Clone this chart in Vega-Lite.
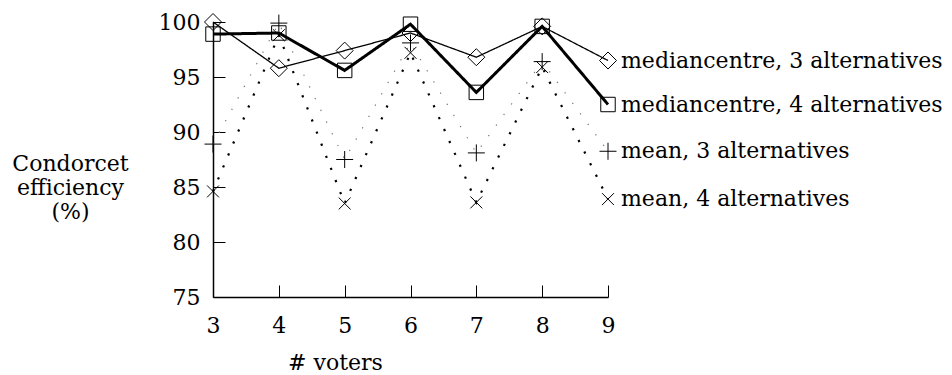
{
  "$schema": "https://vega.github.io/schema/vega-lite/v6.json",
  "width": 395,
  "height": 275,
  "autosize": "none",
  "padding": {"left": 213, "top": 22, "right": 344, "bottom": 78},
  "config": {
    "view": {"stroke": null},
    "font": "DejaVu Serif",
    "axis": {
      "grid": false,
      "domainColor": "black",
      "domainWidth": 1.5,
      "tickColor": "black",
      "tickWidth": 1,
      "tickSize": -12,
      "labelFlush": false,
      "labelFont": "DejaVu Serif",
      "labelFontSize": 22,
      "labelColor": "black",
      "titleFont": "DejaVu Serif",
      "titleFontSize": 22,
      "titleFontWeight": "normal",
      "titleColor": "black"
    }
  },
  "data": {
    "values": [
      {"voters": 3, "series": "mediancentre, 3 alternatives", "eff": 100.0},
      {"voters": 4, "series": "mediancentre, 3 alternatives", "eff": 95.8},
      {"voters": 5, "series": "mediancentre, 3 alternatives", "eff": 97.4},
      {"voters": 6, "series": "mediancentre, 3 alternatives", "eff": 99.0},
      {"voters": 7, "series": "mediancentre, 3 alternatives", "eff": 96.8},
      {"voters": 8, "series": "mediancentre, 3 alternatives", "eff": 99.6},
      {"voters": 9, "series": "mediancentre, 3 alternatives", "eff": 96.5},
      {"voters": 3, "series": "mediancentre, 4 alternatives", "eff": 98.9},
      {"voters": 4, "series": "mediancentre, 4 alternatives", "eff": 99.0},
      {"voters": 5, "series": "mediancentre, 4 alternatives", "eff": 95.6},
      {"voters": 6, "series": "mediancentre, 4 alternatives", "eff": 99.8},
      {"voters": 7, "series": "mediancentre, 4 alternatives", "eff": 93.6},
      {"voters": 8, "series": "mediancentre, 4 alternatives", "eff": 99.6},
      {"voters": 9, "series": "mediancentre, 4 alternatives", "eff": 92.5},
      {"voters": 3, "series": "mean, 3 alternatives", "eff": 88.9},
      {"voters": 4, "series": "mean, 3 alternatives", "eff": 99.9},
      {"voters": 5, "series": "mean, 3 alternatives", "eff": 87.5},
      {"voters": 6, "series": "mean, 3 alternatives", "eff": 98.1},
      {"voters": 7, "series": "mean, 3 alternatives", "eff": 88.1},
      {"voters": 8, "series": "mean, 3 alternatives", "eff": 96.4},
      {"voters": 9, "series": "mean, 3 alternatives", "eff": 88.25},
      {"voters": 3, "series": "mean, 4 alternatives", "eff": 84.6},
      {"voters": 4, "series": "mean, 4 alternatives", "eff": 98.8},
      {"voters": 5, "series": "mean, 4 alternatives", "eff": 83.5},
      {"voters": 6, "series": "mean, 4 alternatives", "eff": 97.2},
      {"voters": 7, "series": "mean, 4 alternatives", "eff": 83.6},
      {"voters": 8, "series": "mean, 4 alternatives", "eff": 95.9},
      {"voters": 9, "series": "mean, 4 alternatives", "eff": 83.9}
    ]
  },
  "encoding": {
    "x": {
      "field": "voters",
      "type": "quantitative",
      "scale": {"domain": [3, 9], "nice": false, "zero": false},
      "axis": {
        "values": [3, 4, 5, 6, 7, 8, 9],
        "labelPadding": 30,
        "title": "# voters",
        "titleX": 122,
        "titleY": 72,
        "titleAnchor": null,
        "titleAlign": "center",
        "titleBaseline": "alphabetic"
      }
    },
    "y": {
      "field": "eff",
      "type": "quantitative",
      "scale": {"domain": [75, 100], "nice": false, "zero": false},
      "axis": {
        "values": [75, 80, 85, 90, 95, 100],
        "labelPadding": 25,
        "title": ["Condorcet", "efficiency", "(%)"],
        "titleAngle": 0,
        "titleX": -143,
        "titleY": 148,
        "titleAlign": "center",
        "titleBaseline": "alphabetic",
        "titleLineHeight": 24
      }
    }
  },
  "layer": [
    {
      "mark": {"type": "line", "clip": false, "strokeCap": "butt"},
      "encoding": {
        "detail": {"field": "series"},
        "color": {
          "field": "series",
          "scale": {
            "domain": ["mediancentre, 3 alternatives", "mediancentre, 4 alternatives", "mean, 3 alternatives", "mean, 4 alternatives"],
            "range": ["#000000", "#000000", "#777777", "#000000"]
          },
          "legend": null
        },
        "strokeWidth": {
          "field": "series",
          "scale": {
            "type": "ordinal",
            "domain": ["mediancentre, 3 alternatives", "mediancentre, 4 alternatives", "mean, 3 alternatives", "mean, 4 alternatives"],
            "range": [1.3, 3, 1.2, 2.2]
          },
          "legend": null
        },
        "strokeDash": {
          "field": "series",
          "scale": {
            "domain": ["mediancentre, 3 alternatives", "mediancentre, 4 alternatives", "mean, 3 alternatives", "mean, 4 alternatives"],
            "range": [[1, 0], [1, 0], [1.3, 11.7], [2.2, 10.8]]
          },
          "legend": null
        }
      }
    },
    {
      "mark": {"type": "point", "filled": false, "clip": false, "color": "black", "strokeWidth": 1, "opacity": 1, "size": 289},
      "encoding": {
        "shape": {
          "field": "series",
          "scale": {
            "domain": ["mediancentre, 3 alternatives", "mediancentre, 4 alternatives", "mean, 3 alternatives", "mean, 4 alternatives"],
            "range": [
              "M0,-1L1,0L0,1L-1,0Z",
              "M-0.85,-0.85H0.85V0.85H-0.85Z",
              "M-1,0H1M0,-1V1",
              "M-0.7,-0.7L0.7,0.7M-0.7,0.7L0.7,-0.7"
            ]
          },
          "legend": null
        }
      }
    },
    {
      "transform": [{"filter": "datum.voters == 9"}],
      "mark": {"type": "text", "align": "left", "baseline": "middle", "dx": 13, "fontSize": 22, "font": "DejaVu Serif", "color": "black", "clip": false},
      "encoding": {
        "text": {"field": "series"}
      }
    }
  ]
}
